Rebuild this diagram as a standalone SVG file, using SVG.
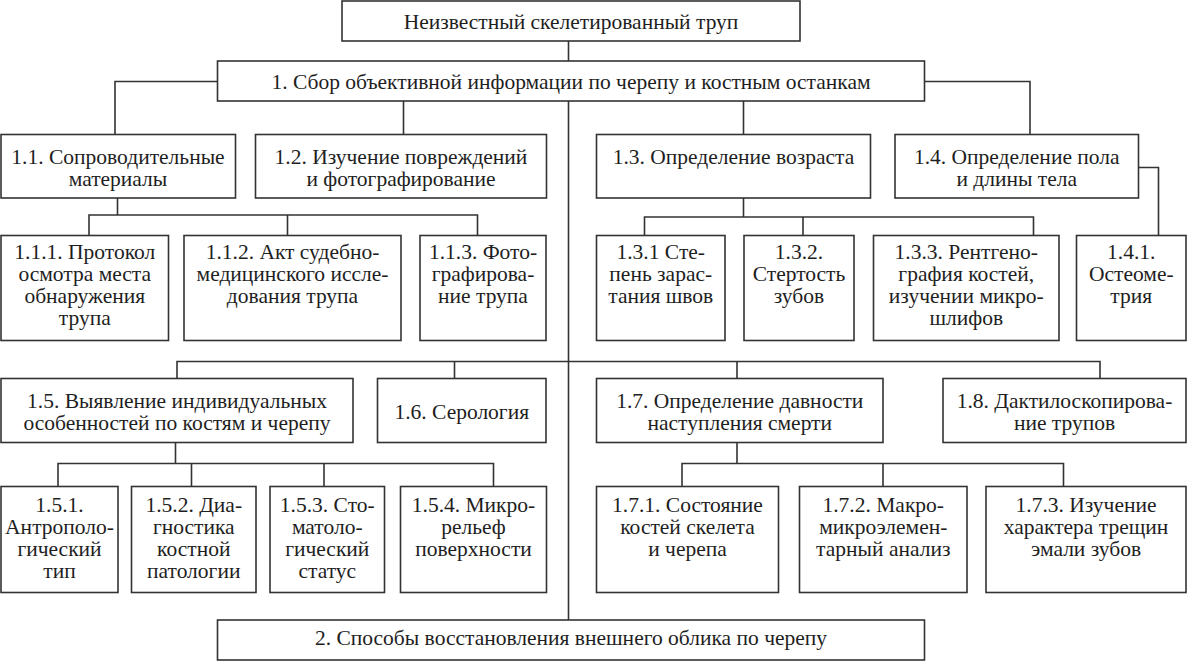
<svg xmlns="http://www.w3.org/2000/svg" width="1187" height="661" viewBox="0 0 1187 661">
<style>
rect.n{fill:#fff;stroke:#333;stroke-width:1.6}
text{font-family:"Liberation Serif","DejaVu Serif",serif;font-size:21.5px;fill:#1e1e1e;text-anchor:middle}
#connectors path{fill:none;stroke:#333;stroke-width:1.6}
</style>
<rect width="1187" height="661" fill="#fff"/>
<g id="connectors">
<path d="M568.5,41V61"/>
<path d="M568.5,101V620"/>
<path d="M217.5,81.5H115V134.5"/>
<path d="M403.5,101V134.5"/>
<path d="M743.5,101V134.5"/>
<path d="M924.5,81.5H1030V134.5"/>
<path d="M117.5,198V215M89,235.5V215H477.5V235.5M287.5,215V235.5"/>
<path d="M743.5,198V217M644.5,235.5V217H1033.5V235.5M803,217V235.5"/>
<path d="M1138.5,167.5H1158.5V235.5"/>
<path d="M177,378.5V361.5H1100V378.5M454.5,361.5V378.5M737,361.5V378.5"/>
<path d="M175.5,442.5V463.5M58,486.5V463.5H493.5V486.5M191.5,463.5V486.5M324,463.5V486.5"/>
<path d="M737,442.5V463.5M682,486.5V463.5H1063.5V486.5M883,463.5V486.5"/>
</g>
<g id="n0"><rect class="n" x="342" y="1" width="458" height="40"/><text x="571" y="29">Неизвестный скелетированный труп</text></g>
<g id="n1"><rect class="n" x="217.5" y="61" width="707" height="40"/><text x="571" y="89">1. Сбор объективной информации по черепу и костным останкам</text></g>
<g id="n1_1"><rect class="n" x="1" y="134.5" width="234.5" height="63.5"/><text x="118" y="164">1.1. Сопроводительные</text><text x="118" y="186">материалы</text></g>
<g id="n1_2"><rect class="n" x="255.5" y="134.5" width="291" height="63.5"/><text x="401" y="164">1.2. Изучение повреждений</text><text x="401" y="186">и фотографирование</text></g>
<g id="n1_3"><rect class="n" x="596.5" y="134.5" width="274" height="63.5"/><text x="733.5" y="164">1.3. Определение возраста</text></g>
<g id="n1_4"><rect class="n" x="895" y="134.5" width="243.5" height="63.5"/><text x="1016.75" y="164">1.4. Определение пола</text><text x="1016.75" y="186">и длины тела</text></g>
<g id="n1_1_1"><rect class="n" x="1" y="235.5" width="167.5" height="105"/><text x="84.75" y="258.5">1.1.1. Протокол</text><text x="84.75" y="280.5">осмотра места</text><text x="84.75" y="302.5">обнаружения</text><text x="84.75" y="324.5">трупа</text></g>
<g id="n1_1_2"><rect class="n" x="184" y="235.5" width="217" height="105"/><text x="292.5" y="258.5">1.1.2. Акт судебно-</text><text x="292.5" y="280.5">медицинского иссле-</text><text x="292.5" y="302.5">дования трупа</text></g>
<g id="n1_1_3"><rect class="n" x="420" y="235.5" width="126" height="105"/><text x="483" y="258.5">1.1.3. Фото-</text><text x="483" y="280.5">графирова-</text><text x="483" y="302.5">ние трупа</text></g>
<g id="n1_3_1"><rect class="n" x="596.5" y="235.5" width="128.5" height="105"/><text x="660.75" y="258.5">1.3.1 Сте-</text><text x="660.75" y="280.5">пень зарас-</text><text x="660.75" y="302.5">тания швов</text></g>
<g id="n1_3_2"><rect class="n" x="744" y="235.5" width="110" height="105"/><text x="799" y="258.5">1.3.2.</text><text x="799" y="280.5">Стертость</text><text x="799" y="302.5">зубов</text></g>
<g id="n1_3_3"><rect class="n" x="873.5" y="235.5" width="185.5" height="105"/><text x="966.25" y="258.5">1.3.3. Рентгено-</text><text x="966.25" y="280.5">графия костей,</text><text x="966.25" y="302.5">изучении микро-</text><text x="966.25" y="324.5">шлифов</text></g>
<g id="n1_4_1"><rect class="n" x="1076.5" y="235.5" width="109.5" height="105"/><text x="1131.25" y="258.5">1.4.1.</text><text x="1131.25" y="280.5">Остеоме-</text><text x="1131.25" y="302.5">трия</text></g>
<g id="n1_5"><rect class="n" x="1" y="378.5" width="352" height="64"/><text x="177" y="407.5">1.5. Выявление индивидуальных</text><text x="177" y="430">особенностей по костям и черепу</text></g>
<g id="n1_6"><rect class="n" x="377.5" y="378.5" width="168.5" height="64"/><text x="461.75" y="419">1.6. Серология</text></g>
<g id="n1_7"><rect class="n" x="596.5" y="378.5" width="286.5" height="64"/><text x="739.75" y="407.5">1.7. Определение давности</text><text x="739.75" y="430">наступления смерти</text></g>
<g id="n1_8"><rect class="n" x="943" y="378.5" width="243" height="64"/><text x="1064.5" y="407.5">1.8. Дактилоскопирова-</text><text x="1064.5" y="430">ние трупов</text></g>
<g id="n1_5_1"><rect class="n" x="1" y="486.5" width="117" height="106"/><text x="59.5" y="511.5">1.5.1.</text><text x="59.5" y="533.5">Антрополо-</text><text x="59.5" y="555.5">гический</text><text x="59.5" y="577.5">тип</text></g>
<g id="n1_5_2"><rect class="n" x="131.5" y="486.5" width="124.5" height="106"/><text x="193.75" y="511.5">1.5.2. Диа-</text><text x="193.75" y="533.5">гностика</text><text x="193.75" y="555.5">костной</text><text x="193.75" y="577.5">патологии</text></g>
<g id="n1_5_3"><rect class="n" x="270" y="486.5" width="114.5" height="106"/><text x="327.25" y="511.5">1.5.3. Сто-</text><text x="327.25" y="533.5">матоло-</text><text x="327.25" y="555.5">гический</text><text x="327.25" y="577.5">статус</text></g>
<g id="n1_5_4"><rect class="n" x="400.5" y="486.5" width="146" height="106"/><text x="473.5" y="511.5">1.5.4. Микро-</text><text x="473.5" y="533.5">рельеф</text><text x="473.5" y="555.5">поверхности</text></g>
<g id="n1_7_1"><rect class="n" x="596.5" y="486.5" width="182" height="106"/><text x="687.5" y="511.5">1.7.1. Состояние</text><text x="687.5" y="533.5">костей скелета</text><text x="687.5" y="555.5">и черепа</text></g>
<g id="n1_7_2"><rect class="n" x="799.5" y="486.5" width="167.5" height="106"/><text x="883.25" y="511.5">1.7.2. Макро-</text><text x="883.25" y="533.5">микроэлемен-</text><text x="883.25" y="555.5">тарный анализ</text></g>
<g id="n1_7_3"><rect class="n" x="986" y="486.5" width="200" height="106"/><text x="1086" y="511.5">1.7.3. Изучение</text><text x="1086" y="533.5">характера трещин</text><text x="1086" y="555.5">эмали зубов</text></g>
<g id="n2"><rect class="n" x="217.5" y="620" width="707" height="40"/><text x="571" y="645">2. Способы восстановления внешнего облика по черепу</text></g>
</svg>
